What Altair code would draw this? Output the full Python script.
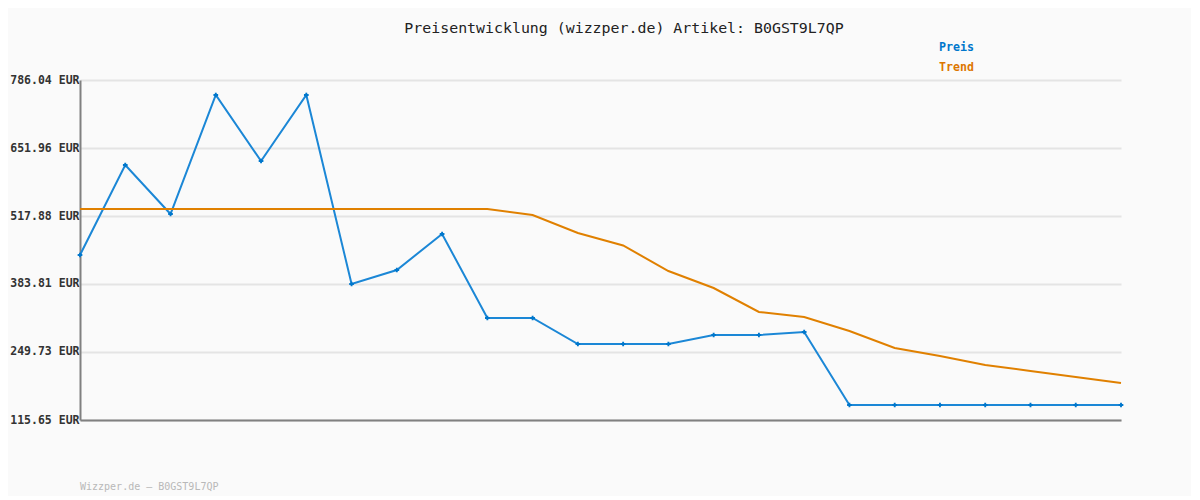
import altair as alt
import pandas as pd

idx = list(range(24))
preis = [441.0, 618.4, 521.8, 756.5, 626.3, 756.5, 383.8, 411.4, 482.4, 316.8,
         316.8, 265.5, 265.5, 265.5, 283.3, 283.3, 289.2, 145.2, 145.2, 145.2,
         145.2, 145.2, 145.2, 145.2]
trend = [531.7, 531.7, 531.7, 531.7, 531.7, 531.7, 531.7, 531.7, 531.7, 531.7,
         519.9, 484.4, 459.8, 409.4, 375.9, 328.6, 318.7, 291.1, 257.6, 241.8,
         224.1, 212.3, 200.5, 188.6]
y_ticks = [115.65, 249.73, 383.81, 517.88, 651.96, 786.04]
series_names = ["Preis", "Trend"]
series_colors = ["#1b87d6", "#e08000"]
title_text = "Preisentwicklung (wizzper.de) Artikel: B0GST9L7QP"
footer_text = "Wizzper.de – B0GST9L7QP"

df = pd.DataFrame({
    "i": idx * 2,
    "v": preis + trend,
    "s": ["Preis"] * len(idx) + ["Trend"] * len(idx),
})
dfp = pd.DataFrame({"i": idx, "v": preis})

FONT = "DejaVu Sans Mono"

x = alt.X("i:Q", scale=alt.Scale(domain=[0, 23], nice=False, zero=False),
          axis=alt.Axis(title=None, labels=False, ticks=False, grid=False,
                        domainColor="#808080", domainWidth=2))
y = alt.Y("v:Q", scale=alt.Scale(domain=[y_ticks[0], y_ticks[-1]], nice=False, zero=False),
          axis=alt.Axis(title=None, values=y_ticks, ticks=False, labelPadding=1,
                        labelExpr="format(datum.value, '.2f') + ' EUR'",
                        labelFont=FONT, labelFontSize=11.5, labelFontWeight="bold",
                        labelColor="#333333", grid=True, gridColor="#e4e4e4", gridWidth=2,
                        domainColor="#808080", domainWidth=2))

lines = alt.Chart(df).mark_line(strokeWidth=2, clip=False).encode(
    x=x, y=y,
    color=alt.Color("s:N", scale=alt.Scale(domain=series_names, range=series_colors), legend=None),
)
pts = alt.Chart(dfp).mark_point(shape="cross", size=22, filled=True, color="#0077cc", opacity=1).encode(
    x="i:Q", y="v:Q")

def txt(t, px, py, size, color, weight="normal", align="left"):
    return alt.Chart(pd.DataFrame({"t": [t]})).mark_text(
        font=FONT, fontSize=size, color=color, fontWeight=weight, align=align,
        baseline="middle").encode(x=alt.value(px), y=alt.value(py), text="t:N")

title = txt(title_text, 544, -51, 14.9, "#222222", align="center")
leg1 = txt("Preis", 859, -32, 11.6, "#0077cc", weight="bold")
leg2 = txt("Trend", 859, -12, 11.6, "#dd7700", weight="bold")
footer = txt(footer_text, 0, 407, 10, "#b8b8b8")

chart = alt.layer(lines, pts, title, leg1, leg2, footer).properties(
    width=1041, height=340,
    autosize=alt.AutoSizeParams(type="none"),
    padding={"left": 72, "top": 72, "right": 70, "bottom": 76},
    background="#fafafa",
).configure_view(stroke=None)

chart.save("out.html", embed_options={"renderer": "svg", "actions": False})
